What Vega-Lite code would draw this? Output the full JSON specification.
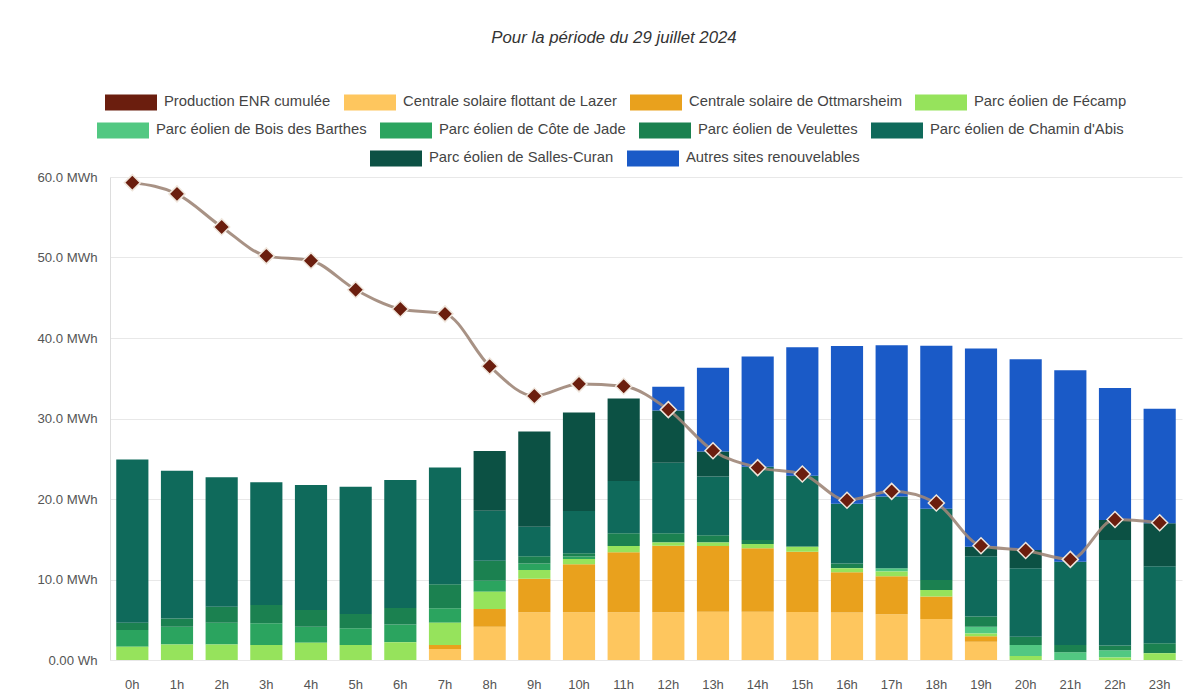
{
  "$schema": "https://vega.github.io/schema/vega-lite/v6.json",
  "width": 1072,
  "height": 483,
  "autosize": {"type": "none"},
  "padding": {"left": 110, "top": 177, "right": 12, "bottom": 36},
  "background": "white",
  "title": {
    "text": "Pour la période du 29 juillet 2024",
    "font": "Liberation Sans",
    "fontStyle": "italic",
    "fontWeight": "normal",
    "fontSize": 16.8,
    "color": "#333333",
    "anchor": "middle",
    "dx": -32,
    "offset": 29
  },
  "config": {
    "view": {"stroke": null},
    "font": "Liberation Sans"
  },
  "datasets": {
    "prod": [
      {"h": "0h", "site": "Parc éolien de Fécamp", "mwh": 1.66},
      {"h": "0h", "site": "Parc éolien de Côte de Jade", "mwh": 2.07},
      {"h": "0h", "site": "Parc éolien de Veulettes", "mwh": 0.91},
      {"h": "0h", "site": "Parc éolien de Chamin d'Abis", "mwh": 20.26},
      {"h": "1h", "site": "Parc éolien de Fécamp", "mwh": 1.94},
      {"h": "1h", "site": "Parc éolien de Côte de Jade", "mwh": 2.2},
      {"h": "1h", "site": "Parc éolien de Veulettes", "mwh": 1.03},
      {"h": "1h", "site": "Parc éolien de Chamin d'Abis", "mwh": 18.33},
      {"h": "2h", "site": "Parc éolien de Fécamp", "mwh": 1.94},
      {"h": "2h", "site": "Parc éolien de Côte de Jade", "mwh": 2.7},
      {"h": "2h", "site": "Parc éolien de Veulettes", "mwh": 1.98},
      {"h": "2h", "site": "Parc éolien de Chamin d'Abis", "mwh": 16.08},
      {"h": "3h", "site": "Parc éolien de Fécamp", "mwh": 1.86},
      {"h": "3h", "site": "Parc éolien de Côte de Jade", "mwh": 2.69},
      {"h": "3h", "site": "Parc éolien de Veulettes", "mwh": 2.28},
      {"h": "3h", "site": "Parc éolien de Chamin d'Abis", "mwh": 15.24},
      {"h": "4h", "site": "Parc éolien de Fécamp", "mwh": 2.15},
      {"h": "4h", "site": "Parc éolien de Côte de Jade", "mwh": 1.99},
      {"h": "4h", "site": "Parc éolien de Veulettes", "mwh": 2.06},
      {"h": "4h", "site": "Parc éolien de Chamin d'Abis", "mwh": 15.54},
      {"h": "5h", "site": "Parc éolien de Fécamp", "mwh": 1.86},
      {"h": "5h", "site": "Parc éolien de Côte de Jade", "mwh": 2.08},
      {"h": "5h", "site": "Parc éolien de Veulettes", "mwh": 1.77},
      {"h": "5h", "site": "Parc éolien de Chamin d'Abis", "mwh": 15.82},
      {"h": "6h", "site": "Parc éolien de Fécamp", "mwh": 2.2},
      {"h": "6h", "site": "Parc éolien de Côte de Jade", "mwh": 2.2},
      {"h": "6h", "site": "Parc éolien de Veulettes", "mwh": 2.05},
      {"h": "6h", "site": "Parc éolien de Chamin d'Abis", "mwh": 15.91},
      {"h": "7h", "site": "Centrale solaire flottant de Lazer", "mwh": 1.37},
      {"h": "7h", "site": "Centrale solaire de Ottmarsheim", "mwh": 0.49},
      {"h": "7h", "site": "Parc éolien de Fécamp", "mwh": 2.78},
      {"h": "7h", "site": "Parc éolien de Côte de Jade", "mwh": 1.78},
      {"h": "7h", "site": "Parc éolien de Veulettes", "mwh": 2.98},
      {"h": "7h", "site": "Parc éolien de Chamin d'Abis", "mwh": 14.5},
      {"h": "8h", "site": "Centrale solaire flottant de Lazer", "mwh": 4.14},
      {"h": "8h", "site": "Centrale solaire de Ottmarsheim", "mwh": 2.2},
      {"h": "8h", "site": "Parc éolien de Fécamp", "mwh": 2.15},
      {"h": "8h", "site": "Parc éolien de Côte de Jade", "mwh": 1.37},
      {"h": "8h", "site": "Parc éolien de Veulettes", "mwh": 2.48},
      {"h": "8h", "site": "Parc éolien de Chamin d'Abis", "mwh": 6.21},
      {"h": "8h", "site": "Parc éolien de Salles-Curan", "mwh": 7.41},
      {"h": "9h", "site": "Centrale solaire flottant de Lazer", "mwh": 5.92},
      {"h": "9h", "site": "Centrale solaire de Ottmarsheim", "mwh": 4.18},
      {"h": "9h", "site": "Parc éolien de Fécamp", "mwh": 1.08},
      {"h": "9h", "site": "Parc éolien de Côte de Jade", "mwh": 0.82},
      {"h": "9h", "site": "Parc éolien de Veulettes", "mwh": 0.9},
      {"h": "9h", "site": "Parc éolien de Chamin d'Abis", "mwh": 3.66},
      {"h": "9h", "site": "Parc éolien de Salles-Curan", "mwh": 11.84},
      {"h": "10h", "site": "Centrale solaire flottant de Lazer", "mwh": 5.92},
      {"h": "10h", "site": "Centrale solaire de Ottmarsheim", "mwh": 5.97},
      {"h": "10h", "site": "Parc éolien de Fécamp", "mwh": 0.66},
      {"h": "10h", "site": "Parc éolien de Côte de Jade", "mwh": 0.3},
      {"h": "10h", "site": "Parc éolien de Veulettes", "mwh": 0.4},
      {"h": "10h", "site": "Parc éolien de Chamin d'Abis", "mwh": 5.25},
      {"h": "10h", "site": "Parc éolien de Salles-Curan", "mwh": 12.26},
      {"h": "11h", "site": "Centrale solaire flottant de Lazer", "mwh": 5.92},
      {"h": "11h", "site": "Centrale solaire de Ottmarsheim", "mwh": 7.45},
      {"h": "11h", "site": "Parc éolien de Fécamp", "mwh": 0.79},
      {"h": "11h", "site": "Parc éolien de Veulettes", "mwh": 1.58},
      {"h": "11h", "site": "Parc éolien de Chamin d'Abis", "mwh": 6.5},
      {"h": "11h", "site": "Parc éolien de Salles-Curan", "mwh": 10.26},
      {"h": "12h", "site": "Centrale solaire flottant de Lazer", "mwh": 5.92},
      {"h": "12h", "site": "Centrale solaire de Ottmarsheim", "mwh": 8.28},
      {"h": "12h", "site": "Parc éolien de Fécamp", "mwh": 0.4},
      {"h": "12h", "site": "Parc éolien de Veulettes", "mwh": 1.14},
      {"h": "12h", "site": "Parc éolien de Chamin d'Abis", "mwh": 8.76},
      {"h": "12h", "site": "Parc éolien de Salles-Curan", "mwh": 6.5},
      {"h": "12h", "site": "Autres sites renouvelables", "mwh": 2.95},
      {"h": "13h", "site": "Centrale solaire flottant de Lazer", "mwh": 6.0},
      {"h": "13h", "site": "Centrale solaire de Ottmarsheim", "mwh": 8.16},
      {"h": "13h", "site": "Parc éolien de Fécamp", "mwh": 0.44},
      {"h": "13h", "site": "Parc éolien de Veulettes", "mwh": 0.9},
      {"h": "13h", "site": "Parc éolien de Chamin d'Abis", "mwh": 7.3},
      {"h": "13h", "site": "Parc éolien de Salles-Curan", "mwh": 3.1},
      {"h": "13h", "site": "Autres sites renouvelables", "mwh": 10.4},
      {"h": "14h", "site": "Centrale solaire flottant de Lazer", "mwh": 6.0},
      {"h": "14h", "site": "Centrale solaire de Ottmarsheim", "mwh": 7.87},
      {"h": "14h", "site": "Parc éolien de Fécamp", "mwh": 0.53},
      {"h": "14h", "site": "Parc éolien de Veulettes", "mwh": 0.5},
      {"h": "14h", "site": "Parc éolien de Chamin d'Abis", "mwh": 9.1},
      {"h": "14h", "site": "Autres sites renouvelables", "mwh": 13.7},
      {"h": "15h", "site": "Centrale solaire flottant de Lazer", "mwh": 5.95},
      {"h": "15h", "site": "Centrale solaire de Ottmarsheim", "mwh": 7.51},
      {"h": "15h", "site": "Parc éolien de Fécamp", "mwh": 0.62},
      {"h": "15h", "site": "Parc éolien de Chamin d'Abis", "mwh": 8.82},
      {"h": "15h", "site": "Autres sites renouvelables", "mwh": 15.95},
      {"h": "16h", "site": "Centrale solaire flottant de Lazer", "mwh": 5.9},
      {"h": "16h", "site": "Centrale solaire de Ottmarsheim", "mwh": 5.0},
      {"h": "16h", "site": "Parc éolien de Fécamp", "mwh": 0.5},
      {"h": "16h", "site": "Parc éolien de Veulettes", "mwh": 0.6},
      {"h": "16h", "site": "Parc éolien de Chamin d'Abis", "mwh": 7.4},
      {"h": "16h", "site": "Autres sites renouvelables", "mwh": 19.6},
      {"h": "17h", "site": "Centrale solaire flottant de Lazer", "mwh": 5.67},
      {"h": "17h", "site": "Centrale solaire de Ottmarsheim", "mwh": 4.73},
      {"h": "17h", "site": "Parc éolien de Fécamp", "mwh": 0.6},
      {"h": "17h", "site": "Parc éolien de Bois des Barthes", "mwh": 0.4},
      {"h": "17h", "site": "Parc éolien de Chamin d'Abis", "mwh": 8.9},
      {"h": "17h", "site": "Autres sites renouvelables", "mwh": 18.8},
      {"h": "18h", "site": "Centrale solaire flottant de Lazer", "mwh": 5.1},
      {"h": "18h", "site": "Centrale solaire de Ottmarsheim", "mwh": 2.8},
      {"h": "18h", "site": "Parc éolien de Fécamp", "mwh": 0.8},
      {"h": "18h", "site": "Parc éolien de Veulettes", "mwh": 1.24},
      {"h": "18h", "site": "Parc éolien de Chamin d'Abis", "mwh": 8.86},
      {"h": "18h", "site": "Autres sites renouvelables", "mwh": 20.25},
      {"h": "19h", "site": "Centrale solaire flottant de Lazer", "mwh": 2.28},
      {"h": "19h", "site": "Centrale solaire de Ottmarsheim", "mwh": 0.67},
      {"h": "19h", "site": "Parc éolien de Fécamp", "mwh": 0.35},
      {"h": "19h", "site": "Parc éolien de Bois des Barthes", "mwh": 0.84},
      {"h": "19h", "site": "Parc éolien de Veulettes", "mwh": 1.26},
      {"h": "19h", "site": "Parc éolien de Chamin d'Abis", "mwh": 7.5},
      {"h": "19h", "site": "Parc éolien de Salles-Curan", "mwh": 1.18},
      {"h": "19h", "site": "Autres sites renouvelables", "mwh": 24.62},
      {"h": "20h", "site": "Parc éolien de Fécamp", "mwh": 0.5},
      {"h": "20h", "site": "Parc éolien de Bois des Barthes", "mwh": 1.36},
      {"h": "20h", "site": "Parc éolien de Veulettes", "mwh": 1.04},
      {"h": "20h", "site": "Parc éolien de Chamin d'Abis", "mwh": 8.5},
      {"h": "20h", "site": "Parc éolien de Salles-Curan", "mwh": 2.25},
      {"h": "20h", "site": "Autres sites renouvelables", "mwh": 23.7},
      {"h": "21h", "site": "Parc éolien de Bois des Barthes", "mwh": 0.95},
      {"h": "21h", "site": "Parc éolien de Veulettes", "mwh": 0.91},
      {"h": "21h", "site": "Parc éolien de Chamin d'Abis", "mwh": 10.34},
      {"h": "21h", "site": "Autres sites renouvelables", "mwh": 23.8},
      {"h": "22h", "site": "Parc éolien de Fécamp", "mwh": 0.3},
      {"h": "22h", "site": "Parc éolien de Bois des Barthes", "mwh": 0.9},
      {"h": "22h", "site": "Parc éolien de Veulettes", "mwh": 0.6},
      {"h": "22h", "site": "Parc éolien de Chamin d'Abis", "mwh": 13.1},
      {"h": "22h", "site": "Parc éolien de Salles-Curan", "mwh": 2.5},
      {"h": "22h", "site": "Autres sites renouvelables", "mwh": 16.4},
      {"h": "23h", "site": "Parc éolien de Fécamp", "mwh": 0.83},
      {"h": "23h", "site": "Parc éolien de Veulettes", "mwh": 1.24},
      {"h": "23h", "site": "Parc éolien de Chamin d'Abis", "mwh": 9.58},
      {"h": "23h", "site": "Parc éolien de Salles-Curan", "mwh": 5.33},
      {"h": "23h", "site": "Autres sites renouvelables", "mwh": 14.22}
    ],
    "cumul": [
      {"h": "0h", "site": "Production ENR cumulée", "mwh": 59.3},
      {"h": "1h", "site": "Production ENR cumulée", "mwh": 57.9},
      {"h": "2h", "site": "Production ENR cumulée", "mwh": 53.8},
      {"h": "3h", "site": "Production ENR cumulée", "mwh": 50.2},
      {"h": "4h", "site": "Production ENR cumulée", "mwh": 49.6},
      {"h": "5h", "site": "Production ENR cumulée", "mwh": 46.0},
      {"h": "6h", "site": "Production ENR cumulée", "mwh": 43.6},
      {"h": "7h", "site": "Production ENR cumulée", "mwh": 43.0},
      {"h": "8h", "site": "Production ENR cumulée", "mwh": 36.5},
      {"h": "9h", "site": "Production ENR cumulée", "mwh": 32.8},
      {"h": "10h", "site": "Production ENR cumulée", "mwh": 34.3},
      {"h": "11h", "site": "Production ENR cumulée", "mwh": 34.0},
      {"h": "12h", "site": "Production ENR cumulée", "mwh": 31.1},
      {"h": "13h", "site": "Production ENR cumulée", "mwh": 26.0},
      {"h": "14h", "site": "Production ENR cumulée", "mwh": 23.9},
      {"h": "15h", "site": "Production ENR cumulée", "mwh": 23.1},
      {"h": "16h", "site": "Production ENR cumulée", "mwh": 19.85},
      {"h": "17h", "site": "Production ENR cumulée", "mwh": 20.95},
      {"h": "18h", "site": "Production ENR cumulée", "mwh": 19.5},
      {"h": "19h", "site": "Production ENR cumulée", "mwh": 14.2},
      {"h": "20h", "site": "Production ENR cumulée", "mwh": 13.6},
      {"h": "21h", "site": "Production ENR cumulée", "mwh": 12.5},
      {"h": "22h", "site": "Production ENR cumulée", "mwh": 17.45},
      {"h": "23h", "site": "Production ENR cumulée", "mwh": 17.05}
    ]
  },
  "encoding": {
    "x": {
      "field": "h",
      "type": "ordinal",
      "scale": {
        "domain": ["0h","1h","2h","3h","4h","5h","6h","7h","8h","9h","10h","11h","12h","13h","14h","15h","16h","17h","18h","19h","20h","21h","22h","23h"],
        "paddingInner": 0.28,
        "paddingOuter": 0.14
      },
      "axis": {
        "title": null,
        "labelAngle": 0,
        "ticks": false,
        "domain": false,
        "labelPadding": 18,
        "labelFontSize": 13,
        "labelColor": "#555555",
        "labelFont": "Liberation Sans"
      }
    },
    "y": {
      "field": "mwh",
      "type": "quantitative",
      "scale": {"domain": [0, 60]},
      "axis": {
        "title": null,
        "values": [0, 10, 20, 30, 40, 50, 60],
        "labelExpr": "datum.value == 0 ? '0.00 Wh' : format(datum.value, '.1f') + ' MWh'",
        "ticks": false,
        "domain": true,
        "domainColor": "#dddddd",
        "gridColor": "#e8e8e8",
        "labelPadding": 13,
        "labelFontSize": 13.2,
        "labelColor": "#555555",
        "labelFont": "Liberation Sans"
      }
    }
  },
  "layer": [
    {
      "data": {"name": "prod"},
      "transform": [
        {"calculate": "indexof(['Centrale solaire flottant de Lazer','Centrale solaire de Ottmarsheim','Parc éolien de Fécamp','Parc éolien de Bois des Barthes','Parc éolien de Côte de Jade','Parc éolien de Veulettes',\"Parc éolien de Chamin d'Abis\",'Parc éolien de Salles-Curan','Autres sites renouvelables'], datum.site)", "as": "ordre"},
        {"stack": "mwh", "groupby": ["h"], "sort": [{"field": "ordre", "order": "ascending"}], "as": ["v0", "v1"]},
        {"filter": {"field": "site", "oneOf": ["Parc éolien de Bois des Barthes","Parc éolien de Côte de Jade","Parc éolien de Veulettes","Parc éolien de Chamin d'Abis"]}}
      ],
      "mark": {"type": "bar"},
      "encoding": {
        "y": {
          "field": "v1",
          "type": "quantitative",
          "scale": {"domain": [0, 60]},
          "axis": {
            "title": null,
            "values": [0, 10, 20, 30, 40, 50, 60],
            "labelExpr": "datum.value == 0 ? '0.00 Wh' : format(datum.value, '.1f') + ' MWh'",
            "ticks": false,
            "domain": true,
            "domainColor": "#dddddd",
            "gridColor": "#e8e8e8",
            "labelPadding": 13,
            "labelFontSize": 13.2,
            "labelColor": "#555555",
            "labelFont": "Liberation Sans"
          }
        },
        "y2": {"field": "v0"},
        "color": {
          "field": "site",
          "type": "nominal",
          "scale": {
            "domain": ["Parc éolien de Bois des Barthes","Parc éolien de Côte de Jade","Parc éolien de Veulettes","Parc éolien de Chamin d'Abis"],
            "range": ["#52c882","#2ba45f","#1b8150","#0f6a5b"]
          },
          "legend": {
            "title": null,
            "orient": "none",
            "direction": "horizontal",
            "legendX": -13,
            "legendY": -73,
            "symbolType": "M-1,-0.31H1V0.31H-1Z",
            "symbolSize": 2704,
            "symbolStrokeWidth": 0,
            "labelFontSize": 14.8,
            "labelFont": "Liberation Sans",
            "labelColor": "#444444",
            "labelLimit": 400,
            "labelOffset": 7,
            "columnPadding": 13
          }
        }
      }
    },
    {
      "data": {"name": "prod"},
      "transform": [
        {"calculate": "indexof(['Centrale solaire flottant de Lazer','Centrale solaire de Ottmarsheim','Parc éolien de Fécamp','Parc éolien de Bois des Barthes','Parc éolien de Côte de Jade','Parc éolien de Veulettes',\"Parc éolien de Chamin d'Abis\",'Parc éolien de Salles-Curan','Autres sites renouvelables'], datum.site)", "as": "ordre"},
        {"stack": "mwh", "groupby": ["h"], "sort": [{"field": "ordre", "order": "ascending"}], "as": ["v0", "v1"]},
        {"filter": {"field": "site", "oneOf": ["Parc éolien de Salles-Curan","Autres sites renouvelables"]}}
      ],
      "mark": {"type": "bar"},
      "encoding": {
        "y": {
          "field": "v1",
          "type": "quantitative",
          "scale": {"domain": [0, 60]},
          "axis": {
            "title": null,
            "values": [0, 10, 20, 30, 40, 50, 60],
            "labelExpr": "datum.value == 0 ? '0.00 Wh' : format(datum.value, '.1f') + ' MWh'",
            "ticks": false,
            "domain": true,
            "domainColor": "#dddddd",
            "gridColor": "#e8e8e8",
            "labelPadding": 13,
            "labelFontSize": 13.2,
            "labelColor": "#555555",
            "labelFont": "Liberation Sans"
          }
        },
        "y2": {"field": "v0"},
        "color": {
          "field": "site",
          "type": "nominal",
          "scale": {
            "domain": ["Parc éolien de Salles-Curan","Autres sites renouvelables"],
            "range": ["#0c5144","#1a5ac7"]
          },
          "legend": {
            "title": null,
            "orient": "none",
            "direction": "horizontal",
            "legendX": 260,
            "legendY": -45,
            "symbolType": "M-1,-0.31H1V0.31H-1Z",
            "symbolSize": 2704,
            "symbolStrokeWidth": 0,
            "labelFontSize": 14.8,
            "labelFont": "Liberation Sans",
            "labelColor": "#444444",
            "labelLimit": 400,
            "labelOffset": 7,
            "columnPadding": 13
          }
        }
      }
    },
    {
      "layer": [
        {
          "data": {"name": "prod"},
          "transform": [
            {"calculate": "indexof(['Centrale solaire flottant de Lazer','Centrale solaire de Ottmarsheim','Parc éolien de Fécamp','Parc éolien de Bois des Barthes','Parc éolien de Côte de Jade','Parc éolien de Veulettes',\"Parc éolien de Chamin d'Abis\",'Parc éolien de Salles-Curan','Autres sites renouvelables'], datum.site)", "as": "ordre"},
            {"stack": "mwh", "groupby": ["h"], "sort": [{"field": "ordre", "order": "ascending"}], "as": ["v0", "v1"]},
            {"filter": {"field": "site", "oneOf": ["Centrale solaire flottant de Lazer","Centrale solaire de Ottmarsheim","Parc éolien de Fécamp"]}}
          ],
          "mark": {"type": "bar"},
          "encoding": {
            "y": {
              "field": "v1",
              "type": "quantitative",
              "scale": {"domain": [0, 60]},
              "axis": {
                "title": null,
                "values": [0, 10, 20, 30, 40, 50, 60],
                "labelExpr": "datum.value == 0 ? '0.00 Wh' : format(datum.value, '.1f') + ' MWh'",
                "ticks": false,
                "domain": true,
                "domainColor": "#dddddd",
                "gridColor": "#e8e8e8",
                "labelPadding": 13,
                "labelFontSize": 13.2,
                "labelColor": "#555555",
                "labelFont": "Liberation Sans"
              }
            },
            "y2": {"field": "v0"},
            "color": {
              "field": "site",
              "type": "nominal",
              "scale": {
                "domain": ["Production ENR cumulée","Centrale solaire flottant de Lazer","Centrale solaire de Ottmarsheim","Parc éolien de Fécamp"],
                "range": ["#6b1e0e","#fec65e","#e9a11d","#96e35c"]
              },
              "legend": {
                "title": null,
                "orient": "none",
                "direction": "horizontal",
                "legendX": -5,
                "legendY": -101,
                "symbolType": "M-1,-0.31H1V0.31H-1Z",
                "symbolSize": 2704,
                "symbolStrokeWidth": 0,
                "labelFontSize": 14.8,
                "labelFont": "Liberation Sans",
                "labelColor": "#444444",
                "labelLimit": 400,
                "labelOffset": 7,
                "columnPadding": 13
              }
            }
          }
        },
        {
          "data": {"name": "cumul"},
          "mark": {"type": "line", "interpolate": "monotone", "color": "#9e8678", "strokeWidth": 3, "opacity": 0.9},
          "encoding": {}
        },
        {
          "data": {"name": "cumul"},
          "mark": {"type": "point", "shape": "diamond", "filled": true, "size": 256, "opacity": 1, "stroke": "#efe6dc", "strokeWidth": 1.5},
          "encoding": {
            "color": {"field": "site", "type": "nominal"}
          }
        }
      ]
    }
  ],
  "resolve": {"scale": {"color": "independent"}}
}
